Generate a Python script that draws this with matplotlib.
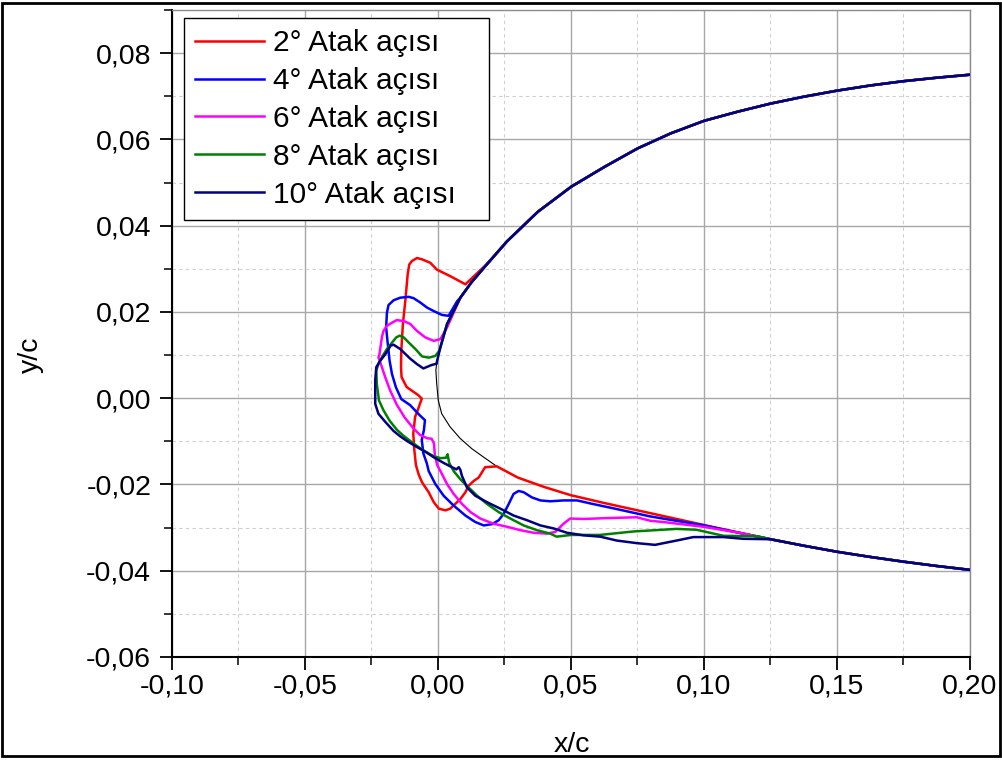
import numpy as np
import matplotlib
matplotlib.use("Agg")
import matplotlib.pyplot as plt
from matplotlib.patches import Rectangle

# ---------------- data ----------------
# clean airfoil, upper surface (from x=0.20 towards leading edge)
upper_x = [0.200, 0.1875, 0.175, 0.1625, 0.150, 0.1375, 0.125, 0.1125, 0.100, 0.0875,
           0.075, 0.0625, 0.050, 0.0375, 0.026, 0.0172, 0.0125, 0.0084, 0.0034, 0.0009,
           -0.0004, -0.0008]
upper_y = [0.0750, 0.0743, 0.0735, 0.0725, 0.0713, 0.0699, 0.0683, 0.0664, 0.0643, 0.0614,
           0.0579, 0.0536, 0.0490, 0.0432, 0.0364, 0.0302, 0.0268, 0.0233, 0.0172, 0.0118,
           0.0085, 0.0065]
# clean airfoil, lower surface (from leading edge to x=0.20)
lower_x = [-0.0008, -0.0005, 0.0001, 0.0014, 0.0045, 0.0083, 0.0127, 0.0170, 0.0221, 0.030,
           0.040, 0.050, 0.0625, 0.075, 0.0875, 0.100, 0.1125, 0.125, 0.1375, 0.150,
           0.1625, 0.175, 0.1875, 0.200]
lower_y = [0.0065, 0.0034, -0.0005, -0.0036, -0.0066, -0.0093, -0.0117, -0.0136, -0.0158, -0.0184,
           -0.0206, -0.0225, -0.0243, -0.0260, -0.0277, -0.0294, -0.0311, -0.0327, -0.0342, -0.0356,
           -0.0368, -0.0379, -0.0389, -0.0398]

# ice shapes
red_x = [0.0185, 0.0103, 0.0046, -0.0004, -0.0029, -0.0060, -0.0079, -0.0098, -0.0108, -0.0114,
         -0.0123, -0.0132, -0.0138, -0.0139, -0.0137, -0.0118, -0.0074, -0.0061, -0.0074, -0.0086,
         -0.0093, -0.0089, -0.0083, -0.0072, -0.0060, -0.0035, -0.0016, 0.0003, 0.0028, 0.0046,
         0.0065, 0.0084, 0.0103, 0.0115, 0.0134, 0.0153, 0.0177]
red_y = [0.0312, 0.0264, 0.0283, 0.0298, 0.0314, 0.0322, 0.0325, 0.0318, 0.0310, 0.0287,
         0.0225, 0.0172, 0.0110, 0.0072, 0.0049, 0.0026, 0.0007, -0.0001, -0.0024, -0.0043,
         -0.0082, -0.0120, -0.0155, -0.0178, -0.0195, -0.0218, -0.0241, -0.0256, -0.0260, -0.0256,
         -0.0245, -0.0234, -0.0218, -0.0203, -0.0192, -0.0184, -0.0160]

blue_x = [0.0072, 0.0040, 0.0015, -0.0016, -0.0041, -0.0067, -0.0092, -0.0110, -0.0142, -0.0167,
          -0.0186, -0.0192, -0.0195, -0.0190, -0.0186, -0.0182, -0.0173, -0.0158, -0.0138, -0.0105,
          -0.0068, -0.0049, -0.0053, -0.0061, -0.0055, -0.0042, -0.0035, -0.0010, 0.0021, 0.0059,
          0.0103, 0.0140, 0.0172, 0.0203, 0.0228, 0.0247, 0.0266, 0.0284, 0.0303, 0.0322,
          0.0353, 0.0385, 0.0422, 0.0472, 0.0523, 0.0573, 0.0672, 0.0797, 0.1000]
blue_y = [0.0225, 0.0191, 0.0193, 0.0202, 0.0210, 0.0222, 0.0232, 0.0235, 0.0233, 0.0227,
          0.0216, 0.0198, 0.0164, 0.0133, 0.0110, 0.0087, 0.0056, 0.0025, -0.0002, -0.0016,
          -0.0040, -0.0051, -0.0074, -0.0097, -0.0128, -0.0151, -0.0169, -0.0199, -0.0226, -0.0249,
          -0.0272, -0.0287, -0.0295, -0.0292, -0.0283, -0.0268, -0.0245, -0.0222, -0.0215, -0.0218,
          -0.0230, -0.0237, -0.0239, -0.0237, -0.0237, -0.0244, -0.0257, -0.0274, -0.0295]

mag_x = [0.0034, 0.0009, -0.0016, -0.0048, -0.0079, -0.0104, -0.0129, -0.0155, -0.0173, -0.0192,
         -0.0205, -0.0211, -0.0220, -0.0224, -0.0211, -0.0198, -0.0180, -0.0155, -0.0125, -0.0095,
         -0.0068, -0.0040, -0.0024, -0.0015, -0.0012, -0.0003, 0.0015, 0.0034, 0.0059, 0.0090,
         0.0122, 0.0159, 0.0209, 0.0259, 0.0310, 0.0360, 0.0410, 0.0441, 0.0472, 0.0497,
         0.0548, 0.0634, 0.0747, 0.0797, 0.0860, 0.0997, 0.1123]
mag_y = [0.0164, 0.0137, 0.0133, 0.0141, 0.0156, 0.0172, 0.0179, 0.0181, 0.0175, 0.0168,
         0.0156, 0.0141, 0.0102, 0.0095, 0.0072, 0.0048, 0.0018, -0.0015, -0.0045, -0.0068,
         -0.0085, -0.0093, -0.0094, -0.0105, -0.0131, -0.0155, -0.0176, -0.0199, -0.0222, -0.0245,
         -0.0264, -0.0279, -0.0291, -0.0298, -0.0306, -0.0312, -0.0314, -0.0310, -0.0291, -0.0279,
         -0.0280, -0.0278, -0.0276, -0.0284, -0.0288, -0.0298, -0.0311]

grn_x = [0.0005, -0.0010, -0.0035, -0.0060, -0.0085, -0.0110, -0.0129, -0.0144, -0.0157, -0.0173,
         -0.0192, -0.0211, -0.0224, -0.0232, -0.0230, -0.0222, -0.0205, -0.0182, -0.0155, -0.0130,
         -0.0092, -0.0050, -0.0015, 0.0010, 0.0030, 0.0036, 0.0042, 0.0059, 0.0084, 0.0115,
         0.0147, 0.0184, 0.0228, 0.0272, 0.0322, 0.0372, 0.0422, 0.0446, 0.0500, 0.0609,
         0.0734, 0.0897, 0.0972, 0.1073, 0.1200]
grn_y = [0.0110, 0.0098, 0.0094, 0.0097, 0.0114, 0.0129, 0.0141, 0.0145, 0.0141, 0.0129,
         0.0114, 0.0095, 0.0079, 0.0064, 0.0033, -0.0005, -0.0028, -0.0052, -0.0073, -0.0087,
         -0.0105, -0.0123, -0.0135, -0.0139, -0.0138, -0.0130, -0.0150, -0.0169, -0.0188, -0.0207,
         -0.0226, -0.0245, -0.0264, -0.0279, -0.0295, -0.0306, -0.0314, -0.0321, -0.0317, -0.0317,
         -0.0309, -0.0303, -0.0305, -0.0319, -0.0320]

nav_x = [-0.0005, -0.0024, -0.0055, -0.0079, -0.0105, -0.0142, -0.0167, -0.0178, -0.0198, -0.0217,
         -0.0232, -0.0236, -0.0236, -0.0224, -0.0198, -0.0167, -0.0143, -0.0117, -0.0080, -0.0045,
         -0.0016, 0.0021, 0.0046, 0.0069, 0.0078, 0.0084, 0.0090, 0.0109, 0.0140, 0.0184,
         0.0234, 0.0284, 0.0335, 0.0385, 0.0435, 0.0485, 0.0548, 0.0610, 0.0672, 0.0747,
         0.0816, 0.0897, 0.0960, 0.1073, 0.1148, 0.1250]
nav_y = [0.0080, 0.0077, 0.0069, 0.0079, 0.0092, 0.0114, 0.0124, 0.0122, 0.0102, 0.0087,
         0.0072, 0.0041, -0.0013, -0.0036, -0.0055, -0.0076, -0.0088, -0.0099, -0.0113, -0.0125,
         -0.0137, -0.0150, -0.0158, -0.0165, -0.0160, -0.0166, -0.0180, -0.0207, -0.0226, -0.0241,
         -0.0256, -0.0272, -0.0283, -0.0295, -0.0302, -0.0312, -0.0318, -0.0321, -0.0330, -0.0336,
         -0.0340, -0.0330, -0.0322, -0.0322, -0.0326, -0.0327]

series_labels = ["2° Atak açısı", "4° Atak açısı", "6° Atak açısı", "8° Atak açısı", "10° Atak açısı"]
series_colors = ["#ff0000", "#0000ff", "#ff00ff", "#008000", "#000080"]

xticks = [-0.10, -0.05, 0.00, 0.05, 0.10, 0.15, 0.20]
xtick_labels = ["-0,10", "-0,05", "0,00", "0,05", "0,10", "0,15", "0,20"]
yticks = [-0.06, -0.04, -0.02, 0.00, 0.02, 0.04, 0.06, 0.08]
ytick_labels = ["-0,06", "-0,04", "-0,02", "0,00", "0,02", "0,04", "0,06", "0,08"]

# ---------------- plot ----------------
FONT = "Liberation Sans"
FS = 20.5
FS_LEG = 21.5
plt.rcParams["font.family"] = [FONT, "DejaVu Sans"]

W, H = 1003, 760
fig = plt.figure(figsize=(W / 100, H / 100), dpi=100)
ax = fig.add_axes([172 / W, (H - 657) / H, 798 / W, 647 / H])

ux, uy = np.array(upper_x), np.array(upper_y)
lx, ly = np.array(lower_x), np.array(lower_y)

# clean airfoil (thin black)
ax.plot(np.concatenate([ux, lx]), np.concatenate([uy, ly]), color="black", lw=0.8, zorder=3)

ice = [(red_x, red_y), (blue_x, blue_y), (mag_x, mag_y), (grn_x, grn_y), (nav_x, nav_y)]
for (ix, iy), lab, col in zip(ice, series_labels, series_colors):
    ix, iy = np.array(ix), np.array(iy)
    mu = ux > ix[0]
    ml = lx > ix[-1]
    X = np.concatenate([ux[mu], ix, lx[ml]])
    Y = np.concatenate([uy[mu], iy, ly[ml]])
    ax.plot(X, Y, color=col, lw=1.8, label=lab, zorder=4, solid_joinstyle="round")

ax.set_xlim(-0.10, 0.20)
ax.set_ylim(-0.06, 0.09)
ax.set_xticks(xticks)
ax.set_xticklabels(xtick_labels)
ax.set_yticks(yticks)
ax.set_yticklabels(ytick_labels)
ax.set_xticks(np.arange(-0.075, 0.2, 0.05), minor=True)
ax.set_yticks(np.arange(-0.05, 0.09, 0.02), minor=True)

ax.grid(True, which="major", color="#a8a8a8", lw=1.0, ls="-", zorder=0)
ax.grid(True, which="minor", color="#cfcfcf", lw=0.8, ls=(0, (3, 3)), zorder=0)
ax.set_axisbelow(True)

ax.tick_params(which="major", direction="out", length=9, width=1.3, labelsize=FS, color="black")
ax.tick_params(which="minor", direction="out", length=6, width=1.1, color="black")
ax.tick_params(axis="y", which="major", pad=6)
ax.tick_params(axis="x", which="major", pad=3)
ax.tick_params(top=False, right=False, which="both")

for s in ["left", "bottom"]:
    ax.spines[s].set_linewidth(1.5)
    ax.spines[s].set_color("black")
for s in ["top", "right"]:
    ax.spines[s].set_linewidth(1.0)
    ax.spines[s].set_color("#8c8c8c")

ax.set_ylabel("y/c", fontsize=FS)
ax.yaxis.set_label_coords(-0.160, 0.467)
ax.set_xlabel("x/c", fontsize=FS)
ax.xaxis.set_label_coords(0.501, -0.116)

leg = ax.legend(loc="upper left", bbox_to_anchor=(0.015, 0.988, 0.382, 0.0), mode="expand",
                borderaxespad=0, fontsize=FS_LEG, frameon=True, fancybox=False,
                edgecolor="black", handlelength=2.3, handletextpad=0.3, labelspacing=0.33,
                borderpad=0.38, framealpha=1)
leg.get_frame().set_linewidth(1.0)

# figure border
fig.patches.append(Rectangle((2.5 / W, 4.5 / H), (W - 5) / W, (H - 7) / H,
                             transform=fig.transFigure, fill=False, ec="black", lw=2.0))

fig.savefig("out.png", dpi=100)
